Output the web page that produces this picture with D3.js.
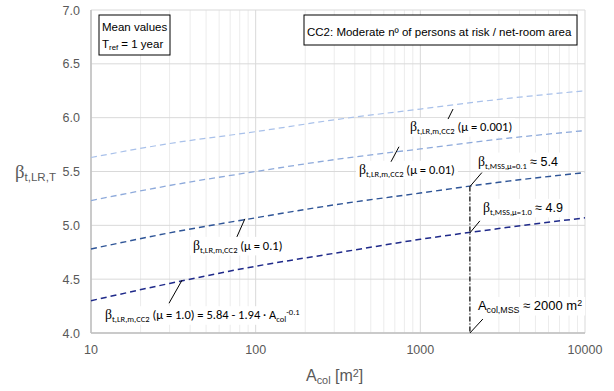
<!DOCTYPE html>
<html>
<head>
<meta charset="utf-8">
<script src="https://cdn.jsdelivr.net/npm/d3@7"></script>
<style>
  body { margin: 0; background: #fff; }
  svg { display: block; }
</style>
</head>
<body>
<div id="chart"></div>
<script>
// area values (x axis, m²) where the curves were read
const areas = [10, 30, 100, 300, 1000, 3000, 10000];
// beta values, one array per mu
const beta_mu0001 = [5.63, 5.76, 5.87, 5.98, 6.08, 6.17, 6.25];
const beta_mu001  = [5.23, 5.37, 5.50, 5.61, 5.71, 5.80, 5.88];
const beta_mu01   = [4.78, 4.93, 5.07, 5.19, 5.30, 5.40, 5.49];
const beta_mu1    = [4.30, 4.46, 4.62, 4.74, 4.87, 4.97, 5.07];
const xTicks = [10, 100, 1000, 10000];
const yTicks = [4.0, 4.5, 5.0, 5.5, 6.0, 6.5, 7.0];
const mssArea = 2000;
const mssBeta01 = 5.36;
const mssBeta1 = 4.93;

const W = 614, H = 391;
const margin = {top: 10, right: 29, bottom: 58, left: 91};

const x = d3.scaleLog().domain([10, 10000]).range([margin.left, W - margin.right]);
const y = d3.scaleLinear().domain([4, 7]).range([H - margin.bottom, margin.top]);

const svg = d3.select("#chart").append("svg")
    .attr("width", W)
    .attr("height", H)
    .attr("viewBox", [0, 0, W, H]);

// grid
const minor = [];
for (let d = 10; d < 10000; d *= 10) for (let k = 2; k <= 9; k++) minor.push(d * k);
svg.append("g").selectAll("line").data(minor).join("line")
    .attr("x1", d => x(d)).attr("x2", d => x(d))
    .attr("y1", y(4)).attr("y2", y(7))
    .attr("stroke", "#ececec").attr("stroke-width", 1);
svg.append("g").selectAll("line").data(xTicks).join("line")
    .attr("x1", d => x(d)).attr("x2", d => x(d))
    .attr("y1", y(4)).attr("y2", y(7))
    .attr("stroke", "#d9d9d9").attr("stroke-width", 1);
svg.append("g").selectAll("line").data(yTicks).join("line")
    .attr("x1", x(10)).attr("x2", x(10000))
    .attr("y1", d => y(d)).attr("y2", d => y(d))
    .attr("stroke", "#d9d9d9").attr("stroke-width", 1);
// axis lines
svg.append("line").attr("x1", x(10)).attr("x2", x(10)).attr("y1", y(4)).attr("y2", y(7))
    .attr("stroke", "#bfbfbf").attr("stroke-width", 1.5);
svg.append("line").attr("x1", x(10)).attr("x2", x(10000)).attr("y1", y(4)).attr("y2", y(4))
    .attr("stroke", "#bfbfbf").attr("stroke-width", 1.5);

// tick labels
svg.append("g").selectAll("text").data(yTicks).join("text")
    .attr("x", 80).attr("y", d => y(d) + 4.5)
    .attr("text-anchor", "end")
    .attr("font-family", "Liberation Sans, Arial, sans-serif")
    .attr("font-size", 12.5).attr("fill", "#595959")
    .text(d => d.toFixed(1));
svg.append("g").selectAll("text").data(xTicks).join("text")
    .attr("x", d => x(d)).attr("y", y(4) + 21)
    .attr("text-anchor", "middle")
    .attr("font-family", "Liberation Sans, Arial, sans-serif")
    .attr("font-size", 12.5).attr("fill", "#595959")
    .text(d => d);

const serif = "Liberation Serif, DejaVu Serif, serif";

// rich text helper: parts = [[text, "sub"|"sup"|null, font?]]
function rich(g, px, py, parts, size, family, fill) {
    const t = g.append("text").attr("x", px).attr("y", py)
        .attr("font-family", family).attr("font-size", size).attr("fill", fill || "#000");
    parts.forEach(([s, kind, fam]) => {
        const sp = t.append("tspan").text(s);
        if (fam) sp.attr("font-family", fam);
        if (kind === "sub") sp.attr("font-size", size * 0.68).attr("baseline-shift", "-28%");
        else if (kind === "sup") sp.attr("font-size", size * 0.68).attr("baseline-shift", "40%");
        else if (s === "β") sp.attr("font-size", size * 1.1);
    });
    return t;
}

// axis titles
rich(svg, 15, 178, [["β", null, serif], ["t,LR,T", "sub"]], 17, "Liberation Sans, Arial, sans-serif", "#595959");
rich(svg, 306, 381, [["A", null], ["col", "sub"], [" [m", null], ["2", "sup"], ["]", null]], 16, "Liberation Sans, Arial, sans-serif", "#595959");

// curves
const series = [
    {vals: beta_mu0001, color: "#a9c1ea", width: 1.2},
    {vals: beta_mu001, color: "#8eaadb", width: 1.3},
    {vals: beta_mu01, color: "#2f5597", width: 1.4},
    {vals: beta_mu1, color: "#1f2a8a", width: 1.5}
];
const line = d3.line()
    .curve(d3.curveMonotoneX)
    .x(d => x(d[0]))
    .y(d => y(d[1]));
svg.append("g").selectAll("path").data(series).join("path")
    .attr("fill", "none")
    .attr("stroke", d => d.color)
    .attr("stroke-width", d => d.width)
    .attr("stroke-dasharray", "6,4")
    .attr("d", d => line(areas.map((a, i) => [a, d.vals[i]])));

// MSS vertical
svg.append("line")
    .attr("x1", x(mssArea)).attr("x2", x(mssArea))
    .attr("y1", y(mssBeta01)).attr("y2", y(4))
    .attr("stroke", "#000").attr("stroke-width", 1.2)
    .attr("stroke-dasharray", "5,2,1,2");

// annotations: curve anchor [A, beta], leader offset, label position relative to anchor
const calibri = "Carlito, Calibri, Lato, sans-serif";
const arial = "Liberation Sans, Arial, sans-serif";
const ann = [
    {a: [1580, 6.08], d: [-5, 10], t: [-43, 22], size: 12.5, fam: calibri,
     parts: [["β", null, serif], ["t,LR,m,CC2", "sub"], [" (μ = 0.001)", null]]},
    {a: [742, 5.73], d: [-8, 15], t: [-40, 27], size: 12.5, fam: calibri,
     parts: [["β", null, serif], ["t,LR,m,CC2", "sub"], [" (μ = 0.01)", null]]},
    {a: [86, 5.06], d: [-8, 18], t: [-52, 31], size: 12.5, fam: calibri,
     parts: [["β", null, serif], ["t,LR,m,CC2", "sub"], [" (μ = 0.1)", null]]},
    {a: [35.7, 4.49], d: [-13, 23], t: [-77, 39], size: 12.5, fam: calibri,
     parts: [["β", null, serif], ["t,LR,m,CC2", "sub"], [" (μ = 1.0) = 5.84 - 1.94 · A", null], ["col", "sub"], ["-0.1", "sup"]]},
    {a: [mssArea, mssBeta01], d: [12, -14], t: [8, -21], size: 12.5, fam: calibri,
     parts: [["β", null, serif], ["t,MSS,μ=0.1", "sub"], ["  ≈ 5.4", null, arial]]},
    {a: [mssArea, mssBeta1], d: [10, -12], t: [13, -21], size: 12.5, fam: calibri,
     parts: [["β", null, serif], ["t,MSS,μ=1.0", "sub"], ["  ≈ 4.9", null, arial]]},
    {a: [mssArea, 4.0], d: [13, -14], t: [8, -23], size: 13, fam: arial,
     parts: [["A", null], ["col,MSS", "sub"], [" ≈ 2000 m", null], ["2", "sup"]]}
];
const annG = svg.append("g");
ann.forEach(o => {
    const px = x(o.a[0]), py = y(o.a[1]);
    const bg = annG.append("rect").attr("fill", "#fff");
    const t = rich(annG, px + o.t[0], py + o.t[1], o.parts, o.size, o.fam);
    const bb = t.node().getBBox();
    bg.attr("x", bb.x - 3).attr("y", bb.y - 1).attr("width", bb.width + 6).attr("height", bb.height + 2);
    annG.append("line")
        .attr("x1", px).attr("y1", py)
        .attr("x2", px + o.d[0]).attr("y2", py + o.d[1])
        .attr("stroke", "#000").attr("stroke-width", 1);
});

// info boxes
const box1 = svg.append("g");
box1.append("rect").attr("x", 99).attr("y", 15).attr("width", 71).attr("height", 40)
    .attr("fill", "#fff").attr("stroke", "#000").attr("stroke-width", 1);
rich(box1, 102, 31, [["Mean values", null]], 11.5, arial);
rich(box1, 102, 48, [["T", null], ["ref", "sub"], [" = 1 year", null]], 11.5, arial);

const box2 = svg.append("g");
box2.append("rect").attr("x", 304).attr("y", 15).attr("width", 273).attr("height", 30)
    .attr("fill", "#fff").attr("stroke", "#000").attr("stroke-width", 1);
rich(box2, 307, 36, [["CC2: Moderate nº of persons at risk / net-room area", null]], 11.5, arial);
</script>
</body>
</html>
